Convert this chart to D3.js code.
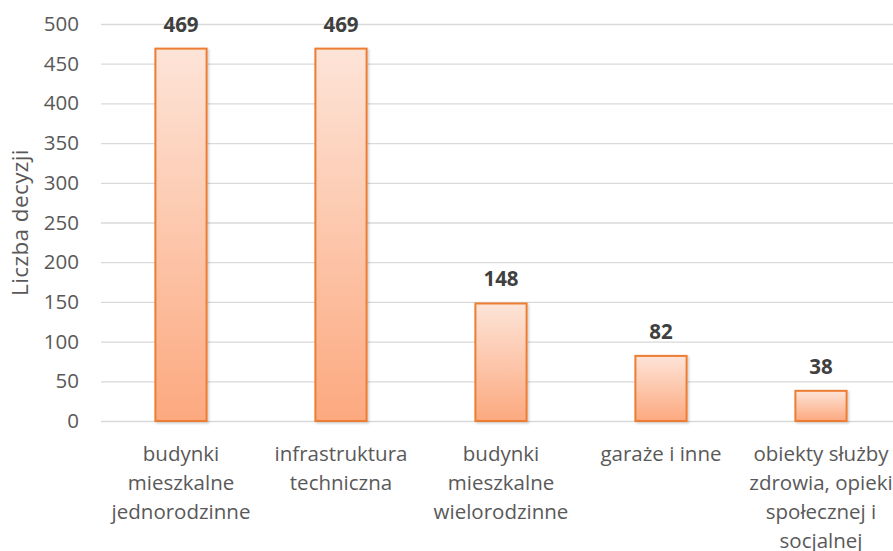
<!DOCTYPE html>
<html>
<head>
<meta charset="utf-8">
<script src="https://cdn.jsdelivr.net/npm/d3@7"></script>
<style>
  body { margin: 0; background: #fff; }
  svg { display: block; font-family: "Open Sans", sans-serif; }
</style>
</head>
<body>
<script>
// données du graphique
const categories = [
  'budynki mieszkalne jednorodzinne',
  'infrastruktura techniczna',
  'budynki mieszkalne wielorodzinne',
  'garaże i inne',
  'obiekty służby zdrowia, opieki społecznej i socjalnej'
];
const categoryLines = [
  ['budynki', 'mieszkalne', 'jednorodzinne'],
  ['infrastruktura', 'techniczna'],
  ['budynki', 'mieszkalne', 'wielorodzinne'],
  ['garaże i inne'],
  ['obiekty służby', 'zdrowia, opieki', 'społecznej i', 'socjalnej']
];
const values = [469, 469, 148, 82, 38];
const yTicks = [0, 50, 100, 150, 200, 250, 300, 350, 400, 450, 500];
const yTitle = 'Liczba decyzji';

const width = 893;
const height = 551;
const margin = { top: 24, right: -8, bottom: 130, left: 101 };

const svg = d3.select('body')
  .append('svg')
  .attr('width', width)
  .attr('height', height);

// dégradé des barres
const defs = svg.append('defs');
const grad = defs.append('linearGradient')
  .attr('id', 'barGrad')
  .attr('x1', 0).attr('y1', 0).attr('x2', 0).attr('y2', 1);
grad.append('stop').attr('offset', '0%').attr('stop-color', '#fde4d8');
grad.append('stop').attr('offset', '100%').attr('stop-color', '#fca97f');

const shadow = defs.append('filter')
  .attr('id', 'shadow')
  .attr('x', '-20%').attr('y', '-5%').attr('width', '140%').attr('height', '115%');
shadow.append('feDropShadow')
  .attr('dx', 1.5).attr('dy', 1.5).attr('stdDeviation', 1.2)
  .attr('flood-color', '#000').attr('flood-opacity', 0.18);

// échelles
const x = d3.scaleBand()
  .domain(categories)
  .range([margin.left, width - margin.right])
  .paddingInner(0.68)
  .paddingOuter(0.34);

const y = d3.scaleLinear()
  .domain([0, 500])
  .range([height - margin.bottom, margin.top]);

// grille
svg.append('g')
  .selectAll('line')
  .data(yTicks)
  .join('line')
    .attr('x1', margin.left)
    .attr('x2', width)
    .attr('y1', d => y(d) + 0.5)
    .attr('y2', d => y(d) + 0.5)
    .attr('stroke', '#d9d9d9')
    .attr('stroke-width', 1.3);

// axe vertical
svg.append('g')
  .attr('transform', `translate(${margin.left - 22}, 0)`)
  .call(d3.axisLeft(y).tickValues(yTicks).tickSize(0).tickPadding(0))
  .call(g => g.select('.domain').remove())
  .call(g => g.selectAll('text')
    .attr('fill', '#595959')
    .style('font-family', '"Open Sans", sans-serif')
    .style('font-size', '20.5px'));

// titre de l'axe
svg.append('text')
  .attr('transform', `translate(28, ${(y(0) + y(500)) / 2}) rotate(-90)`)
  .attr('text-anchor', 'middle')
  .attr('fill', '#595959')
  .style('font-size', '22.5px')
  .style('letter-spacing', '0.4px')
  .text(yTitle);

// barres
svg.append('g')
  .selectAll('rect')
  .data(values)
  .join('rect')
    .attr('x', (d, i) => x(categories[i]))
    .attr('y', d => y(d))
    .attr('width', x.bandwidth())
    .attr('height', d => y(0) - y(d))
    .attr('fill', 'url(#barGrad)')
    .attr('stroke', '#ed7d31')
    .attr('stroke-width', 2)
    .attr('filter', 'url(#shadow)');

// étiquettes de valeurs
svg.append('g')
  .attr('text-anchor', 'middle')
  .selectAll('text')
  .data(values)
  .join('text')
    .attr('x', (d, i) => x(categories[i]) + x.bandwidth() / 2)
    .attr('y', d => y(d) - 17)
    .attr('fill', '#404040')
    .style('font-size', '20.5px')
    .style('font-weight', 'bold')
    .text(d => d);

// étiquettes de catégories
const labels = svg.append('g')
  .attr('text-anchor', 'middle')
  .attr('fill', '#595959')
  .style('font-size', '20.5px')
  .selectAll('text')
  .data(categories)
  .join('text')
    .attr('x', d => x(d) + x.bandwidth() / 2)
    .attr('y', y(0) + 40);

labels.selectAll('tspan')
  .data((d, i) => categoryLines[i])
  .join('tspan')
    .attr('x', function () { return d3.select(this.parentNode).attr('x'); })
    .attr('dy', (d, i) => i === 0 ? 0 : 29)
    .text(d => d);
</script>
</body>
</html>
